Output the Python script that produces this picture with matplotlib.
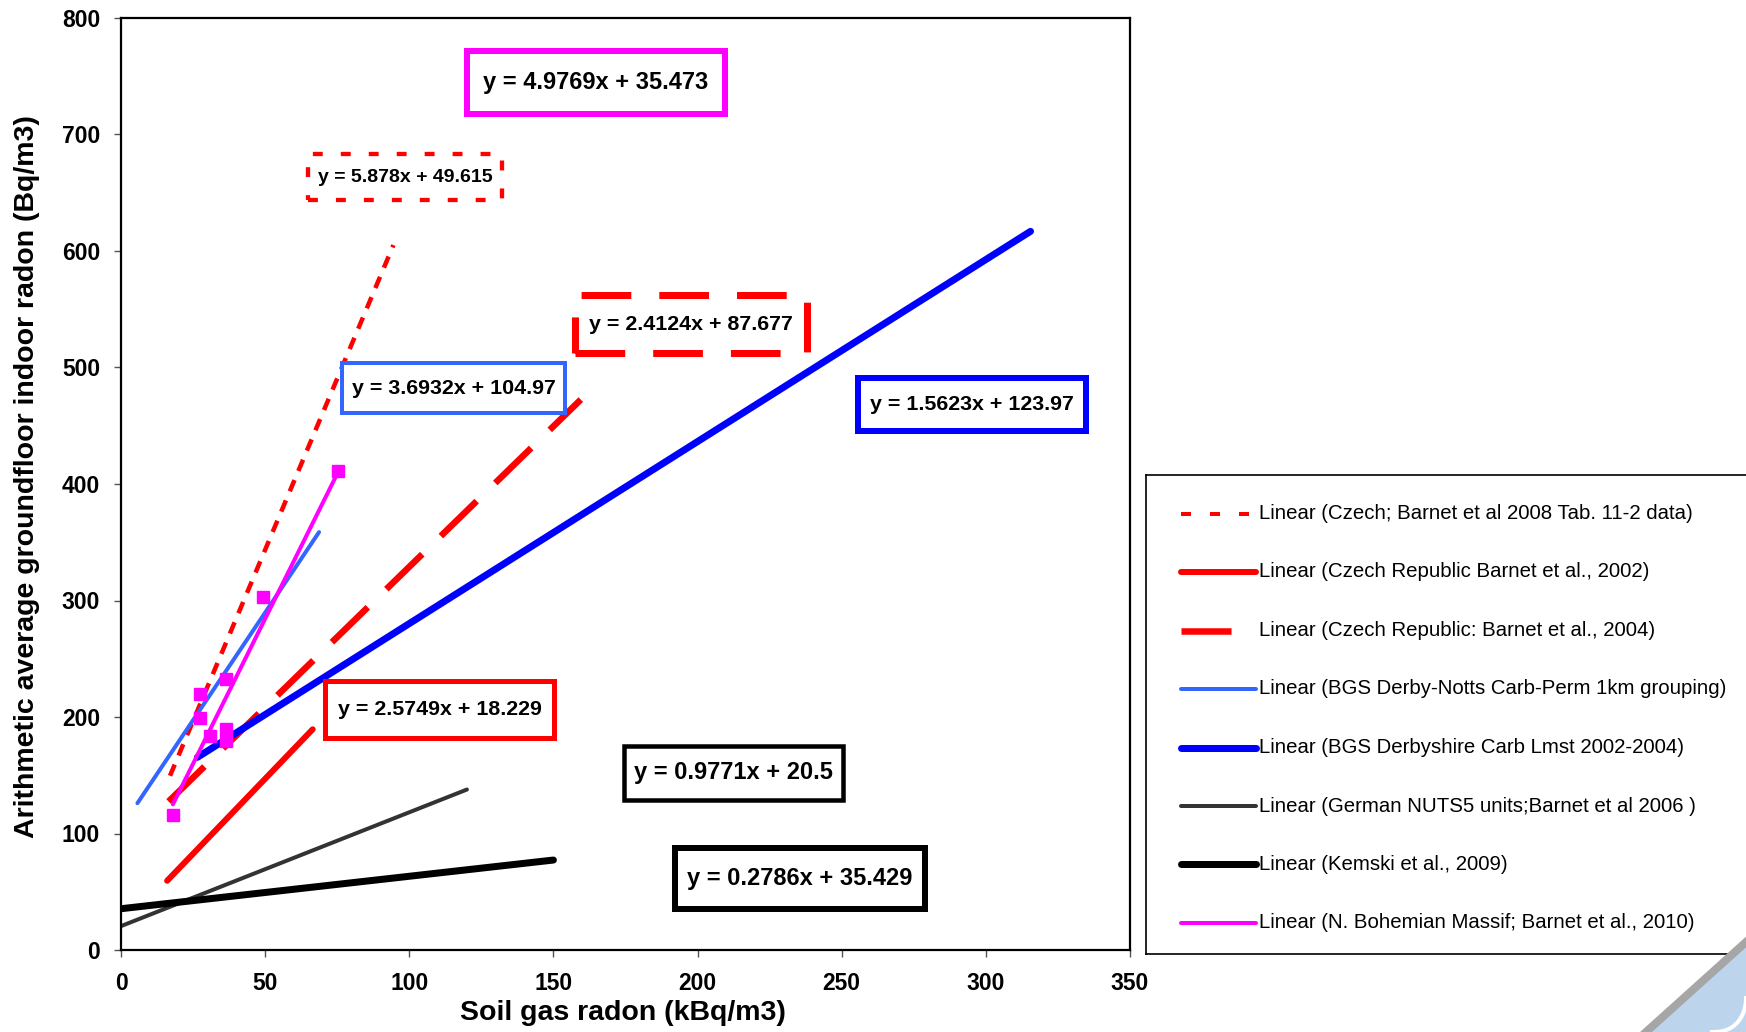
import matplotlib
matplotlib.use("Agg")
import matplotlib.pyplot as plt
from matplotlib.patches import Rectangle, Polygon
from matplotlib.lines import Line2D
import numpy as np

plt.rcParams['font.family'] = ['Liberation Sans', 'DejaVu Sans']

# Trendlines (equations as labelled, x range as drawn)
series_names = [
    "Linear (Czech; Barnet et al 2008 Tab. 11-2 data)",
    "Linear (Czech Republic Barnet et al., 2002)",
    "Linear (Czech Republic: Barnet et al., 2004)",
    "Linear (BGS Derby-Notts Carb-Perm 1km grouping)",
    "Linear (BGS Derbyshire Carb Lmst 2002-2004)",
    "Linear (German NUTS5 units;Barnet et al 2006 )",
    "Linear (Kemski et al., 2009)",
    "Linear (N. Bohemian Massif; Barnet et al., 2010)",
]
slopes = [5.878, 2.5749, 2.4124, 3.6932, 1.5623, 0.9771, 0.2786, 4.9769]
intercepts = [49.615, 18.229, 87.677, 104.97, 123.97, 20.5, 35.429, 35.473]
x_start = [17, 16, 16.5, 5.7, 26.5, 0, 0, 18]
x_end = [94.5, 66.5, 159.5, 68.7, 315.5, 120, 150, 75.4]

# N. Bohemian Massif data points
bohemian_x = [18, 27.5, 27.5, 31, 36.5, 36.5, 36.3, 49.3, 75.2]
bohemian_y = [116, 220, 199, 184, 233, 190, 179, 303, 411]

W, H = 1746, 1032
PX = 0.72  # points per pixel at dpi 100

# line styles (legend order)
styles = [
    dict(color='#FF0000', lw=4.5 * PX, dashes=(2.7, 2.2)),
    dict(color='#FF0000', lw=6 * PX, solid_capstyle='round'),
    dict(color='#FF0000', lw=6.5 * PX, dashes=(7.7, 4.0)),
    dict(color='#3366FF', lw=4 * PX, solid_capstyle='round'),
    dict(color='#0000FF', lw=7 * PX, solid_capstyle='round'),
    dict(color='#333333', lw=4 * PX, solid_capstyle='round'),
    dict(color='#000000', lw=7 * PX, solid_capstyle='round'),
    dict(color='#FF00FF', lw=4 * PX, solid_capstyle='round'),
]


def fx(x):
    return x / W


def fy(y):
    return 1 - y / H


fig = plt.figure(figsize=(W / 100, H / 100), dpi=100)
ax = fig.add_axes([fx(121), fy(950), (1130 - 121) / W, (950 - 18) / H])

for i in range(len(slopes)):
    xs = np.array([x_start[i], x_end[i]])
    ys = slopes[i] * xs + intercepts[i]
    ax.plot(xs, ys, zorder=2 + i * 0.1, **styles[i])

ax.plot(bohemian_x, bohemian_y, linestyle='none', marker='s', markersize=8.5,
        color='#FF00FF', zorder=3)

ax.set_xlim(0, 350)
ax.set_ylim(0, 800)
ax.set_xticks(range(0, 351, 50))
ax.set_yticks(range(0, 801, 100))
ax.tick_params(direction='out', length=5, width=1.0, labelsize=16.5, color='#555555')
ax.tick_params(axis='x', pad=11)
ax.tick_params(axis='y', pad=10)
for lab in ax.get_xticklabels() + ax.get_yticklabels():
    lab.set_fontweight('bold')
for sp in ax.spines.values():
    sp.set_linewidth(1.6)
    sp.set_color('black')

fig.text(fx(27), fy(477), "Arithmetic average groundfloor indoor radon (Bq/m3)",
         rotation=90, ha='center', va='center', fontsize=20.5, fontweight='bold')
fig.text(fx(623), fy(1013), "Soil gas radon (kBq/m3)",
         ha='center', va='center', fontsize=20.5, fontweight='bold')

# equation boxes (pixel layout: x0, y0, x1, y1)
box_px = [
    (308, 154, 502, 200),
    (325, 681, 554, 738),
    (575, 295, 807, 353),
    (342, 363, 565, 413),
    (858, 378, 1086, 431),
    (624, 746, 843, 800),
    (675, 848, 925, 909),
    (467, 51, 725, 114),
]
box_font = [14, 15.4, 15.4, 15.4, 15.4, 17, 17, 17]
box_lw = [4.3, 5, 7, 4, 6, 4.5, 6, 6]
box_colors = ['#FF0000', '#FF0000', '#FF0000', '#3366FF', '#0000FF', '#000000', '#000000', '#FF00FF']
box_dash = [(2.3, 4.2), None, (7.1, 4.0), None, None, None, None, None]

for i, (x0, y0, x1, y1) in enumerate(box_px):
    rect = Rectangle((fx(x0), fy(y1)), (x1 - x0) / W, (y1 - y0) / H,
                     transform=fig.transFigure, facecolor='white',
                     edgecolor=box_colors[i], linewidth=box_lw[i] * PX,
                     joinstyle='miter', zorder=5)
    if box_dash[i] is not None:
        rect.set_linestyle((0, box_dash[i]))
    fig.patches.append(rect)
    label = f"y = {slopes[i]}x + {intercepts[i]}"
    fig.text(fx((x0 + x1) / 2), fy((y0 + y1) / 2), label, ha='center', va='center',
             fontsize=box_font[i], fontweight='bold', zorder=6)

# legend box, running off the right edge of the figure
lax = fig.add_axes([fx(1146), fy(954), 0.4, (954 - 475) / H])
lax.set_xlim(1146, 1146 + 0.4 * W)
lax.set_ylim(954, 475)
lax.set_xticks([])
lax.set_yticks([])
for sp in lax.spines.values():
    sp.set_linewidth(1.2)
lax.patch.set_facecolor('white')

legend_y = [514, 572, 631, 689, 748, 806, 864, 923]
for i, name in enumerate(series_names):
    st = dict(styles[i])
    if i == 0:
        st['dashes'] = (2.5, 4.75)
        st['lw'] = 4 * PX
    if i == 2:
        st['dashes'] = (7.7, 4.0)
    lax.plot([1181, 1256], [legend_y[i], legend_y[i]], **st)
    lax.text(1259, legend_y[i], name, ha='left', va='center', fontsize=14.7)

# logo fragment in the bottom right corner
fig.patches.append(Polygon([[fx(1650), fy(1032)], [fx(1740), fy(950)], [fx(1746), fy(946)],
                            [fx(1746), fy(1032)]], closed=True, transform=fig.transFigure,
                           facecolor='#bcd4ec', edgecolor='none', zorder=1))
fig.lines.append(Line2D([fx(1646), fx(1746)], [fy(1032), fy(942)], transform=fig.transFigure,
                        color='#a6a6a6', lw=8 * PX))
arc_t = np.linspace(0.0, 1.0, 20)
arc_x = 1712 + 34 * np.sin(arc_t * np.pi / 2) ** 0.8
arc_y = 1032 - 34 * (1 - np.cos(arc_t * np.pi / 2))
fig.lines.append(Line2D(fx(arc_x), fy(arc_y), transform=fig.transFigure, color='white', lw=4 * PX))

fig.savefig("out.png", dpi=100, facecolor='white')
